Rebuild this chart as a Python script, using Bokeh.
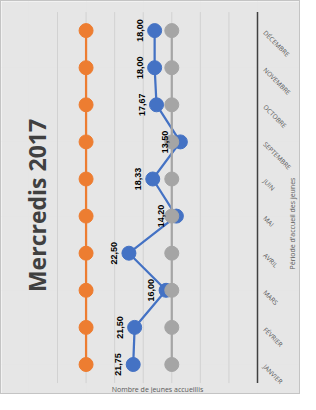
import math
from bokeh.plotting import figure
from bokeh.models import Range1d, ColumnDataSource
from bokeh.core.properties import value
from bokeh.embed import file_html
from bokeh.resources import INLINE

months = ["JANVIER", "FÉVRIER", "MARS", "AVRIL", "MAI", "JUIN",
          "SEPTEMBRE", "OCTOBRE", "NOVEMBRE", "DÉCEMBRE"]
accueillis = [21.75, 21.50, 16.00, 22.50, 14.20, 18.33, 13.50, 17.67, 18.00, 18.00]
serie_grise = [15] * 10
serie_orange = [30] * 10
labels = ["21,75", "21,50", "16,00", "22,50", "14,20", "18,33", "13,50", "17,67", "18,00", "18,00"]
grid_ticks = [5, 10, 15, 20, 25, 30, 35]

pos = list(range(len(months)))

# layout geometry (canvas pixels)
W, H = 300, 394
X0_PX, X35_PX = 256, 56          # pixel of value 0 and of value 35
S = (X0_PX - X35_PX) / 35.0      # px per unit
Y_JAN, STEP = 363, 37.1          # pixel of first category and spacing

def xd(px):
    return (X0_PX - px) / S

def yd(py):
    return (Y_JAN - py) / STEP

BG = "#e6e6e6"
p = figure(width=W, height=H, output_backend="svg", toolbar_location=None,
           x_range=Range1d(xd(0), xd(W)), y_range=Range1d(yd(H), yd(0)),
           x_axis_location=None, y_axis_location=None,
           min_border=0, min_border_left=0, min_border_right=0,
           min_border_top=0, min_border_bottom=0,
           background_fill_color=BG, border_fill_color=BG, outline_line_color=None)
p.styles = {"border": "1px solid #c4c4c4"}

y_lo, y_hi = -0.5, len(months) - 0.5
p.segment(x0=grid_ticks, y0=[y_lo] * len(grid_ticks), x1=grid_ticks, y1=[y_hi] * len(grid_ticks),
          line_color="#d2d2d2", line_width=1)
p.segment(x0=[0], y0=[y_lo], x1=[0], y1=[y_hi], line_color="#404040", line_width=1.5)

src = ColumnDataSource(dict(y=pos, b=accueillis, g=serie_grise, o=serie_orange,
                            lab=labels, m=months, zero=[0] * len(months)))

BLUE, GRAY, ORANGE = "#4472C4", "#A5A5A5", "#ED7D31"
p.line("b", "y", source=src, line_color=BLUE, line_width=2.25)
p.scatter("b", "y", source=src, size=14, fill_color=BLUE, line_color=BLUE)
p.line("g", "y", source=src, line_color=GRAY, line_width=2.25)
p.scatter("g", "y", source=src, size=14, fill_color=GRAY, line_color=GRAY)
p.line("o", "y", source=src, line_color=ORANGE, line_width=2.25)
p.scatter("o", "y", source=src, size=14, fill_color=ORANGE, line_color=ORANGE)

p.text("b", "y", text="lab", source=src, angle=math.pi / 2, x_offset=-15,
       text_align="center", text_baseline="middle", text_font=value("Liberation Sans"),
       text_font_style="bold", text_font_size="9px", text_color="#000000")

# category labels (right of the category axis)
p.text("zero", "y", text="m", source=src, angle=-math.pi / 4, x_offset=7, y_offset=1,
       text_align="left", text_baseline="middle", text_font=value("Open Sans"),
       text_font_size="6.5px", text_color="#595959")

# chart title and axis titles
p.text(x=[xd(35)], y=[yd(204)], text=["Mercredis 2017"], angle=math.pi / 2,
       text_align="center", text_baseline="middle", text_font=value("Open Sans"),
       text_font_style="bold", text_font_size="23px", text_color="#404040")
p.text(x=[xd(156)], y=[yd(388)], text=["Nombre de jeunes accueillis"],
       text_align="center", text_baseline="middle", text_font=value("Open Sans"),
       text_font_size="7px", text_color="#595959")
p.text(x=[xd(291)], y=[yd(222)], text=["Période d'accueil des jeunes"], angle=math.pi / 2,
       text_align="center", text_baseline="middle", text_font=value("Open Sans"),
       text_font_size="7px", text_color="#595959")

open("out.html", "w").write(file_html(p, INLINE))
